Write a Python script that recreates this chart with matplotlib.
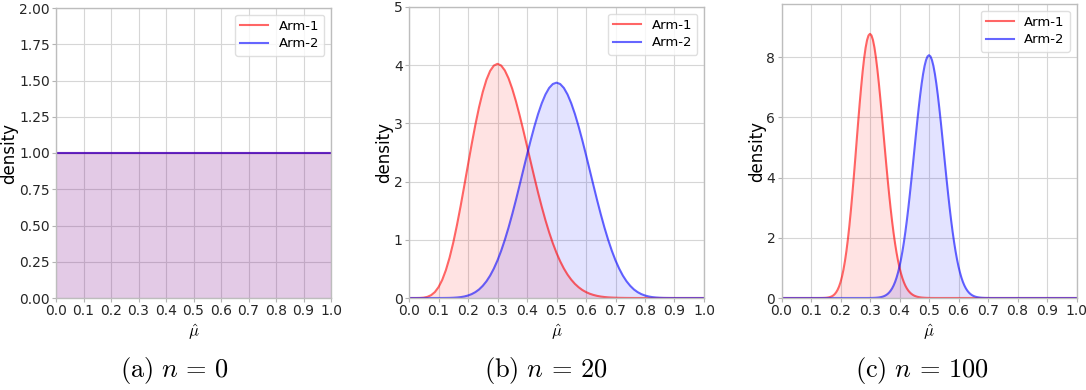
import numpy as np
import matplotlib
matplotlib.use("Agg")
import matplotlib.pyplot as plt

# densities, one set per panel

# (a) n = 0: both arms flat at 1
x_a = [0.0, 1.0]
arm1_a = [1.0, 1.0]
arm2_a = [1.0, 1.0]

# (b) n = 20, sampled every 0.0125
x_b = np.linspace(0, 1, 81)
arm1_b = [0.0, 0.0, 0.0001, 0.0013, 0.006, 0.020, 0.049, 0.101, 0.186, 0.310,
          0.479, 0.693, 0.952, 1.252, 1.581, 1.933, 2.291, 2.644, 2.978, 3.280,
          3.540, 3.750, 3.902, 3.993, 4.024, 3.994, 3.909, 3.774, 3.595, 3.381,
          3.141, 2.882, 2.612, 2.340, 2.072, 1.812, 1.567, 1.338, 1.130, 0.942,
          0.776, 0.631, 0.507, 0.402, 0.315, 0.243, 0.185, 0.138, 0.102, 0.074,
          0.053, 0.037, 0.025, 0.017, 0.011, 0.0075, 0.005, 0.003, 0.002, 0.001,
          0.0006, 0.0, 0.0, 0.0, 0.0, 0.0, 0.0, 0.0, 0.0, 0.0,
          0.0, 0.0, 0.0, 0.0, 0.0, 0.0, 0.0, 0.0, 0.0, 0.0,
          0.0]
arm2_b = [0.0, 0.0, 0.0, 0.0, 0.0, 0.0, 0.0, 0.0, 0.0001, 0.0004,
          0.001, 0.002, 0.0044, 0.0085, 0.015, 0.026, 0.043, 0.067, 0.101, 0.147,
          0.209, 0.287, 0.385, 0.505, 0.647, 0.813, 1.002, 1.212, 1.441, 1.685,
          1.941, 2.201, 2.460, 2.711, 2.947, 3.161, 3.346, 3.497, 3.609, 3.677,
          3.700, 3.677, 3.609, 3.497, 3.346, 3.161, 2.947, 2.711, 2.460, 2.201,
          1.941, 1.685, 1.441, 1.212, 1.002, 0.813, 0.647, 0.505, 0.385, 0.287,
          0.209, 0.147, 0.101, 0.067, 0.043, 0.026, 0.015, 0.0085, 0.0044, 0.002,
          0.001, 0.0004, 0.0001, 0.0, 0.0, 0.0, 0.0, 0.0, 0.0, 0.0,
          0.0]

# (c) n = 100, sampled every 0.005 where the curve is off the floor
x_c1 = np.concatenate([[0.0], np.linspace(0.12, 0.52, 81), [1.0]])
arm1_c = [0.0,
          0.0001, 0.0002, 0.0005, 0.001, 0.002, 0.0036, 0.0065, 0.0115, 0.020, 0.033,
          0.053, 0.082, 0.125, 0.186, 0.269, 0.380, 0.524, 0.708, 0.940, 1.221,
          1.556, 1.947, 2.392, 2.891, 3.436, 4.017, 4.620, 5.244, 5.861, 6.457,
          7.010, 7.518, 7.953, 8.303, 8.562, 8.717, 8.770, 8.718, 8.567, 8.321,
          7.992, 7.590, 7.131, 6.628, 6.093, 5.545, 4.994, 4.452, 3.928, 3.431,
          2.968, 2.541, 2.155, 1.809, 1.504, 1.239, 1.011, 0.817, 0.654, 0.519,
          0.407, 0.317, 0.244, 0.187, 0.141, 0.106, 0.078, 0.058, 0.042, 0.030,
          0.022, 0.015, 0.011, 0.0075, 0.005, 0.0035, 0.002, 0.0016, 0.001, 0.0007,
          0.0,
          0.0]
x_c2 = np.concatenate([[0.0], np.linspace(0.29, 0.71, 85), [1.0]])
arm2_c = [0.0,
          0.0, 0.0008, 0.0013, 0.0021, 0.0033, 0.0051, 0.0078, 0.0117, 0.0173, 0.0253,
          0.0363, 0.0516, 0.0722, 0.0997, 0.136, 0.183, 0.244, 0.320, 0.415, 0.532,
          0.675, 0.846, 1.047, 1.282, 1.553, 1.860, 2.204, 2.583, 2.996, 3.438,
          3.903, 4.385, 4.876, 5.367, 5.847, 6.305, 6.730, 7.112, 7.440, 7.705,
          7.900, 8.020, 8.060, 8.020, 7.900, 7.705, 7.440, 7.112, 6.730, 6.305,
          5.847, 5.367, 4.876, 4.385, 3.903, 3.438, 2.996, 2.583, 2.204, 1.860,
          1.553, 1.282, 1.047, 0.846, 0.675, 0.532, 0.415, 0.320, 0.244, 0.183,
          0.136, 0.0997, 0.0722, 0.0516, 0.0363, 0.0253, 0.0173, 0.0117, 0.0078, 0.0051,
          0.0033, 0.0021, 0.0013, 0.0008, 0.0,
          0.0]

captions = [r"$\mathrm{(a)}\ n\,=\,0$", r"$\mathrm{(b)}\ n\,=\,20$",
            r"$\mathrm{(c)}\ n\,=\,100$"]

plt.rcParams['font.family'] = 'DejaVu Sans'
plt.rcParams['mathtext.fontset'] = 'cm'

fig = plt.figure(figsize=(10.86, 3.9), dpi=100)

panels = [
    # x1, arm1, x2, arm2, ylim top, yticks, tick format, axes rect, caption x
    (x_a, arm1_a, x_a, arm2_a, 2.0, np.arange(0, 2.01, 0.25), "{:.2f}",
     [56 / 1086, 92 / 390, 275 / 1086, 290 / 390], 174),
    (x_b, arm1_b, x_b, arm2_b, 5.0, [0, 1, 2, 3, 4, 5], "{:.0f}",
     [409 / 1086, 92 / 390, 295 / 1086, 291 / 390], 546),
    (x_c1, arm1_c, x_c2, arm2_c, 9.76, [0, 2, 4, 6, 8], "{:.0f}",
     [781.5 / 1086, 92 / 390, 295 / 1086, 294 / 390], 922),
]

for i, (xa, y1, xb, y2, ytop, yt, fmt, rect, cx) in enumerate(panels):
    ax = fig.add_axes(rect)
    ax.plot(xa, y1, color='red', alpha=0.6, lw=1.5, label='Arm-1')
    ax.fill_between(xa, y1, color='red', alpha=0.11, lw=0)
    ax.plot(xb, y2, color='blue', alpha=0.6, lw=1.5, label='Arm-2')
    ax.fill_between(xb, y2, color='blue', alpha=0.11, lw=0)

    ax.set_xlim(0, 1)
    ax.set_ylim(0, ytop)
    xt = np.linspace(0, 1, 11)
    ax.set_xticks(xt)
    ax.set_xticklabels(["{:.1f}".format(v) for v in xt])
    ax.set_yticks(yt)
    ax.set_yticklabels([fmt.format(v) for v in yt])
    ax.tick_params(length=3, width=0.8, color='#b4b4b4', labelsize=10,
                   labelcolor='#262626', pad=1.5)
    ax.grid(True, color='#d6d6d6', lw=0.8)
    ax.set_axisbelow(True)
    for s in ax.spines.values():
        s.set_color('#bdbdbd')
        s.set_linewidth(1.0)

    ax.set_ylabel('density', fontsize=12, labelpad=0.5)
    ax.set_xlabel(r'$\hat{\mu}$', fontsize=12, labelpad=3)

    leg = ax.legend(loc='upper right', fontsize=9.5, frameon=True, fancybox=True,
                    framealpha=0.8, labelspacing=0.35, handlelength=2.1)
    leg.get_frame().set_edgecolor('#d8d8d8')

    fig.text(cx / 1086, 1 - 371 / 390, captions[i], ha='center', va='center',
             fontsize=19)

fig.savefig('out.png', dpi=100)
